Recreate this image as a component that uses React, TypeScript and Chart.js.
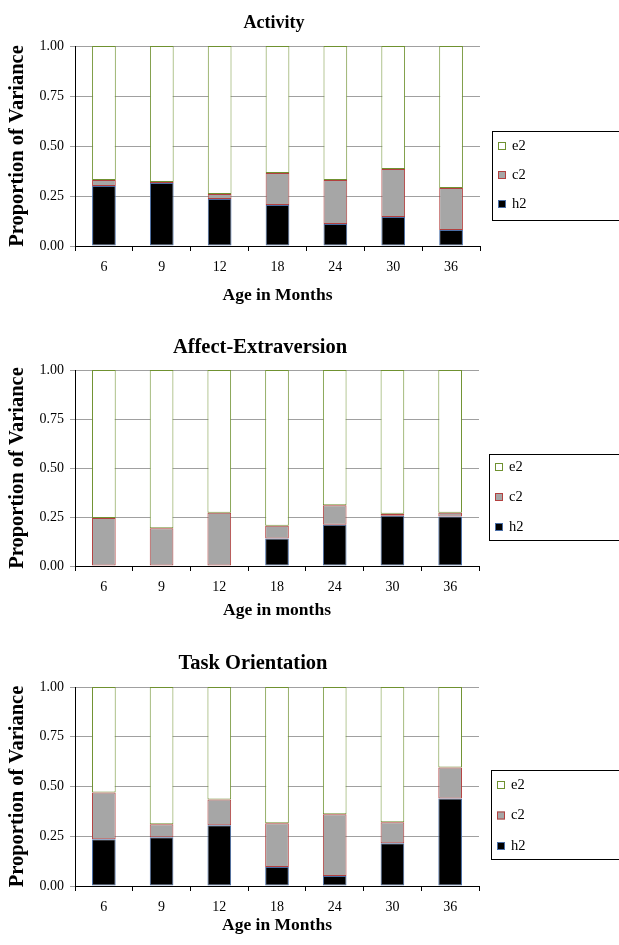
import React, { useEffect, useRef } from "react";
import { Chart, registerables } from "chart.js";

Chart.register(...registerables);

// ---------- data ----------
const ageLabels = ["6", "9", "12", "18", "24", "30", "36"];
const seriesNames = ["h2", "c2", "e2"];
const yTickValues = [0, 0.25, 0.5, 0.75, 1];

const activityH2 = [0.3, 0.315, 0.235, 0.205, 0.11, 0.145, 0.08];
const activityC2 = [0.03, 0.005, 0.025, 0.16, 0.22, 0.24, 0.21];
const activityE2 = [0.67, 0.68, 0.74, 0.635, 0.67, 0.615, 0.71];

const affectH2 = [0, 0, 0, 0.14, 0.21, 0.257, 0.252];
const affectC2 = [0.245, 0.192, 0.272, 0.065, 0.1, 0.01, 0.02];
const affectE2 = [0.755, 0.808, 0.728, 0.795, 0.69, 0.733, 0.728];

const taskH2 = [0.235, 0.245, 0.305, 0.095, 0.05, 0.215, 0.44];
const taskC2 = [0.235, 0.065, 0.13, 0.22, 0.31, 0.105, 0.155];
const taskE2 = [0.53, 0.69, 0.565, 0.685, 0.64, 0.68, 0.405];

// ---------- styling ----------
const SERIF = '"Liberation Serif", "Times New Roman", serif';
const fills = ["#000000", "#a6a6a6", "#ffffff"];
const borders = ["#4a6ea6", "#b3403f", "#6f9130"];

type Panel = {
  top: number;
  height: number;
  title: string;
  titleX: number;
  titleY: number;
  titleSize: number;
  xTitle: string;
  plotTop: number;
  plotBottom: number;
  plotRight: number;
  legendX: number;
  legendY: number;
  legendH: number;
  firstItem: number;
  itemGap: number;
  values: number[][];
};

const panels: Panel[] = [
  {
    top: 0, height: 315, title: "Activity", titleX: 274, titleY: 23, titleSize: 18,
    xTitle: "Age in Months", plotTop: 46, plotBottom: 246, plotRight: 480,
    legendX: 492, legendY: 131, legendH: 89, firstItem: 15, itemGap: 29,
    values: [activityH2, activityC2, activityE2],
  },
  {
    top: 315, height: 315, title: "Affect-Extraversion", titleX: 260, titleY: 33, titleSize: 20.5,
    xTitle: "Age in months", plotTop: 55, plotBottom: 251, plotRight: 479,
    legendX: 489, legendY: 139, legendH: 86, firstItem: 13, itemGap: 30,
    values: [affectH2, affectC2, affectE2],
  },
  {
    top: 630, height: 315, title: "Task Orientation", titleX: 253, titleY: 34, titleSize: 20.5,
    xTitle: "Age in Months", plotTop: 57, plotBottom: 256, plotRight: 479,
    legendX: 491, legendY: 140, legendH: 89, firstItem: 15, itemGap: 30.5,
    values: [taskH2, taskC2, taskE2],
  },
];

const overlayPlugin = {
  id: "overlay",
  afterDraw(chart: any, _args: any, opts: any) {
    const ctx = chart.ctx;
    ctx.save();
    ctx.fillStyle = "#000";
    ctx.textAlign = "center";
    ctx.textBaseline = "middle";
    ctx.font = `bold ${opts.titleSize}px ${SERIF}`;
    ctx.fillText(opts.title, opts.titleX, opts.titleY);

    // legend box
    const lx = opts.legendX;
    const ly = opts.legendY;
    ctx.strokeStyle = "#000";
    ctx.lineWidth = 1;
    ctx.strokeRect(lx + 0.5, ly + 0.5, 300, opts.legendH);
    const ds = chart.data.datasets.slice().reverse();
    ds.forEach((d: any, i: number) => {
      const y = ly + opts.firstItem + i * opts.itemGap;
      ctx.fillStyle = d.backgroundColor;
      ctx.fillRect(lx + 6, y - 4, 8, 8);
      ctx.strokeStyle = d.borderColor;
      ctx.strokeRect(lx + 6.5, y - 3.5, 7, 7);
      ctx.fillStyle = "#000";
      ctx.font = `14.5px ${SERIF}`;
      ctx.textAlign = "left";
      ctx.textBaseline = "middle";
      ctx.fillText(d.label, lx + 20, y);
    });
    ctx.restore();
  },
};

function PanelChart({ p }: { p: Panel }) {
  const ref = useRef<HTMLCanvasElement | null>(null);
  useEffect(() => {
    if (!ref.current) return;
    const chart = new Chart(ref.current, {
      type: "bar",
      data: {
        labels: ageLabels,
        datasets: seriesNames.map((name, i) => ({
          label: name,
          data: p.values[i],
          backgroundColor: fills[i],
          borderColor: borders[i],
          borderWidth: 1,
          borderSkipped: false,
          barPercentage: 0.41,
          categoryPercentage: 1,
        })),
      },
      options: {
        responsive: false,
        animation: false,
        layout: {
          padding: { top: p.plotTop, left: 0, right: 619 - p.plotRight, bottom: 0 },
        },
        plugins: {
          legend: { display: false },
          title: { display: false },
          tooltip: { enabled: false },
          overlay: {
            title: p.title,
            titleX: p.titleX,
            titleY: p.titleY,
            titleSize: p.titleSize,
            legendX: p.legendX,
            legendY: p.legendY,
            legendH: p.legendH,
            firstItem: p.firstItem,
            itemGap: p.itemGap,
          },
        } as any,
        scales: {
          x: {
            stacked: true,
            offset: true,
            grid: {
              display: true,
              drawOnChartArea: false,
              drawTicks: true,
              tickLength: 5,
              color: "#000",
              offset: true,
            },
            border: { display: true, color: "#000", width: 1 },
            ticks: { color: "#000", font: { family: SERIF, size: 14 }, padding: 8 },
            title: {
              display: true,
              text: p.xTitle,
              color: "#000",
              font: { family: SERIF, size: 17.5, weight: "bold", lineHeight: 1.2 },
              padding: { top: 0, bottom: 9.5 },
            },
            afterFit: (s: any) => {
              s.height = p.height - p.plotBottom;
            },
          },
          y: {
            stacked: true,
            min: 0,
            max: 1,
            afterBuildTicks: (s: any) => {
              s.ticks = yTickValues.map((v) => ({ value: v }));
            },
            grid: { color: "#a0a0a0", lineWidth: 1, tickLength: 5, drawTicks: true },
            border: { display: true, color: "#000", width: 1 },
            ticks: {
              color: "#000",
              font: { family: SERIF, size: 14 },
              padding: 6,
              callback: (v: any) => Number(v).toFixed(2),
            },
            title: {
              display: true,
              text: "Proportion of Variance",
              color: "#000",
              font: { family: SERIF, size: 20.5, weight: "bold", lineHeight: 1.2 },
              padding: { top: 5, bottom: 0 },
            },
            afterFit: (s: any) => {
              s.width = 75;
            },
          },
        },
      },
      plugins: [overlayPlugin],
    } as any);
    return () => chart.destroy();
  }, [p]);
  return (
    <canvas
      ref={ref}
      width={619}
      height={p.height}
      style={{ position: "absolute", left: 0, top: p.top, width: 619, height: p.height }}
    />
  );
}

export default function App() {
  return (
    <div
      style={{
        position: "absolute",
        left: 0,
        top: 0,
        width: 619,
        height: 945,
        overflow: "hidden",
        background: "#fff",
      }}
    >
      {panels.map((p, i) => (
        <PanelChart key={i} p={p} />
      ))}
    </div>
  );
}
